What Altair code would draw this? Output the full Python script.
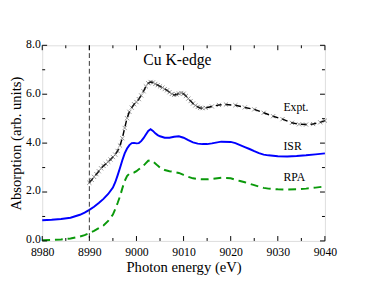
import altair as alt
import pandas as pd

# ---- data ----
expt_x = [8990, 8990.5, 8991, 8991.5, 8992, 8992.5, 8993, 8993.5, 8994, 8994.5,
          8995, 8995.5, 8996, 8996.5, 8997, 8997.5, 8998, 8998.5, 8999, 8999.5,
          9000, 9000.5, 9001, 9001.5, 9002, 9002.5, 9003, 9003.5, 9004, 9004.5,
          9005, 9005.5, 9006, 9006.5, 9007, 9007.5, 9008, 9008.5, 9009, 9009.5,
          9010, 9010.5, 9011, 9011.5, 9012, 9012.5, 9013, 9013.5, 9014, 9014.7,
          9016, 9017.5, 9019, 9021, 9023, 9025, 9027, 9029, 9031, 9033,
          9034.5, 9036, 9037.5, 9039, 9040]
expt_y = [2.38, 2.50, 2.62, 2.73, 2.85, 2.97, 3.07, 3.15, 3.24, 3.33,
          3.43, 3.53, 3.68, 3.90, 4.20, 4.62, 5.02, 5.28, 5.45, 5.59,
          5.68, 5.80, 5.95, 6.12, 6.32, 6.45, 6.50, 6.48, 6.42, 6.37,
          6.32, 6.27, 6.21, 6.16, 6.08, 6.01, 5.97, 5.99, 6.03, 6.05,
          6.02, 5.93, 5.82, 5.72, 5.62, 5.54, 5.48, 5.44, 5.43, 5.44,
          5.50, 5.56, 5.58, 5.55, 5.46, 5.38, 5.24, 5.10, 4.98, 4.83,
          4.77, 4.76, 4.78, 4.85, 4.92]

isr_x = [8980, 8982, 8984, 8986, 8988, 8989, 8990, 8991, 8992, 8993,
         8994, 8995, 8995.5, 8996, 8996.5, 8997, 8997.5, 8998, 8998.5, 8999,
         8999.5, 9000, 9000.5, 9001, 9001.5, 9002, 9002.5, 9003, 9003.5, 9004,
         9004.5, 9005, 9006, 9007, 9008, 9009, 9010, 9011, 9012, 9013,
         9014, 9015, 9016, 9018, 9020, 9021, 9022, 9023, 9024, 9025,
         9026, 9027, 9028, 9030, 9032, 9034, 9036, 9038, 9040]
isr_y = [0.85, 0.87, 0.90, 0.95, 1.07, 1.16, 1.27, 1.40, 1.55, 1.72,
         1.92, 2.18, 2.40, 2.68, 2.98, 3.30, 3.58, 3.78, 3.92, 4.00,
         4.01, 3.99, 4.00, 4.08, 4.20, 4.35, 4.50, 4.57, 4.50, 4.40,
         4.33, 4.28, 4.22, 4.22, 4.26, 4.28, 4.22, 4.12, 4.03, 3.98,
         3.96, 3.96, 3.99, 4.06, 4.05, 4.00, 3.92, 3.84, 3.76, 3.67,
         3.59, 3.53, 3.50, 3.46, 3.45, 3.47, 3.50, 3.54, 3.58]

rpa_x = [8980, 8982, 8984, 8986, 8988, 8989, 8990, 8991, 8992, 8993,
         8994, 8995, 8995.5, 8996, 8996.5, 8997, 8997.5, 8998, 8998.5, 8999,
         8999.5, 9000, 9000.5, 9001, 9001.5, 9002, 9002.5, 9003, 9003.5, 9004,
         9004.5, 9005, 9006, 9007, 9008, 9009, 9010, 9011, 9012, 9013,
         9014, 9015, 9016, 9018, 9020, 9021, 9022, 9023, 9024, 9025,
         9026, 9027, 9028, 9030, 9032, 9034, 9036, 9038, 9040]
rpa_y = [0.03, 0.04, 0.06, 0.10, 0.18, 0.24, 0.32, 0.41, 0.52, 0.63,
         0.82, 1.08, 1.30, 1.55, 1.82, 2.15, 2.45, 2.65, 2.75, 2.78,
         2.80, 2.85, 2.93, 3.00, 3.08, 3.18, 3.28, 3.30, 3.25, 3.17,
         3.08, 3.00, 2.90, 2.85, 2.82, 2.78, 2.70, 2.62, 2.56, 2.53,
         2.52, 2.52, 2.54, 2.58, 2.56, 2.50, 2.45, 2.40, 2.34, 2.28,
         2.22, 2.17, 2.14, 2.11, 2.10, 2.11, 2.14, 2.18, 2.23]

edge_x = [8990]

label_text = ["Cu K-edge", "Expt.", "ISR", "RPA"]
label_x = [9008.7, 9031.2, 9031.2, 9031.2]
label_y = [7.19, 5.32, 3.72, 2.45]
label_align = ["center", "left", "left", "left"]

x_major = [8980, 8990, 9000, 9010, 9020, 9030, 9040]
x_minor = [8985, 8995, 9005, 9015, 9025, 9035]
y_major = [0, 2, 4, 6, 8]
y_minor = [1, 3, 5, 7]

# ---- chart ----
W, H = 289, 200
FONT = "Liberation Serif, Times New Roman, serif"
xs = alt.Scale(domain=[8980, 9040], nice=False, zero=False)
ys = alt.Scale(domain=[0, 8], nice=False)

expt = pd.DataFrame({"x": expt_x, "y": expt_y})
isr = pd.DataFrame({"x": isr_x, "y": isr_y})
rpa = pd.DataFrame({"x": rpa_x, "y": rpa_y})

xaxis = alt.Axis(values=x_major, format="d", ticks=False, tickSize=0, domain=False,
                 grid=False, labelPadding=6, labelFlush=False, labelOverlap=False,
                 title="Photon energy (eV)", titlePadding=2,
                 labelFont=FONT, titleFont=FONT, labelFontSize=12, titleFontSize=15,
                 titleFontWeight="normal", labelColor="black", titleColor="black")
yaxis = alt.Axis(values=y_major, format=".1f", ticks=False, tickSize=0, domain=False,
                 grid=False, labelPadding=2, labelOffset=-2, labelFlush=False,
                 labelOverlap=False,
                 title="Absorption (arb. units)", titlePadding=2,
                 labelFont=FONT, titleFont=FONT, labelFontSize=12, titleFontSize=15,
                 titleFontWeight="normal", labelColor="black", titleColor="black")

base_isr = alt.Chart(isr).mark_line(color="#0000ff", strokeWidth=2).encode(
    x=alt.X("x:Q", scale=xs, axis=xaxis),
    y=alt.Y("y:Q", scale=ys, axis=yaxis),
)
line_rpa = alt.Chart(rpa).mark_line(color="#0a990a", strokeWidth=2, strokeDash=[8, 5]).encode(
    x=alt.X("x:Q", scale=xs), y=alt.Y("y:Q", scale=ys))
line_expt = alt.Chart(expt).mark_line(color="black", strokeWidth=1.5, strokeDash=[6, 4]).encode(
    x=alt.X("x:Q", scale=xs), y=alt.Y("y:Q", scale=ys))
pts_expt = alt.Chart(expt).mark_point(shape="M-1,-1L1,1M-1,1L1,-1", size=18, filled=False,
                                      color="#444444", strokeWidth=0.8).encode(
    x=alt.X("x:Q", scale=xs), y=alt.Y("y:Q", scale=ys))

vline = alt.Chart(pd.DataFrame({"x": edge_x})).mark_rule(
    color="#333333", strokeWidth=1, strokeDash=[5, 3]).encode(
    x=alt.X("x:Q", scale=xs), y=alt.value(0), y2=alt.value(H))

labels = pd.DataFrame({"t": label_text, "x": label_x, "y": label_y, "a": label_align})
lab_big = alt.Chart(labels[labels["a"] == "center"]).mark_text(
    font=FONT, fontSize=16, align="center", baseline="alphabetic", color="black").encode(
    x=alt.X("x:Q", scale=xs), y=alt.Y("y:Q", scale=ys), text="t:N")
lab_small = alt.Chart(labels[labels["a"] == "left"]).mark_text(
    font=FONT, fontSize=12, align="left", baseline="alphabetic", color="black").encode(
    x=alt.X("x:Q", scale=xs), y=alt.Y("y:Q", scale=ys), text="t:N")

MAJ, MIN = 5, 3
xt_maj = pd.DataFrame({"x": x_major})
xt_min = pd.DataFrame({"x": x_minor})
yt_maj = pd.DataFrame({"y": y_major})
yt_min = pd.DataFrame({"y": y_minor})

def xticks(df, ln):
    b = alt.Chart(df).mark_rule(color="black", strokeWidth=1)
    return [b.encode(x=alt.X("x:Q", scale=xs), y=alt.value(H), y2=alt.value(H - ln)),
            b.encode(x=alt.X("x:Q", scale=xs), y=alt.value(0), y2=alt.value(ln))]

def yticks(df, ln):
    b = alt.Chart(df).mark_rule(color="black", strokeWidth=1)
    return [b.encode(y=alt.Y("y:Q", scale=ys), x=alt.value(0), x2=alt.value(ln)),
            b.encode(y=alt.Y("y:Q", scale=ys), x=alt.value(W), x2=alt.value(W - ln))]

tick_layers = xticks(xt_maj, MAJ) + xticks(xt_min, MIN) + yticks(yt_maj, MAJ) + yticks(yt_min, MIN)

chart = alt.layer(base_isr, line_rpa, line_expt, pts_expt, vline, lab_big, lab_small,
                  *tick_layers).properties(
    width=W, height=H,
    autosize=alt.AutoSizeParams(type="none"),
    padding={"left": 35, "top": 35, "right": 42, "bottom": 46},
).configure_view(stroke="black", strokeWidth=1.2).configure(background="white")

chart.save("out.html", embed_options={"renderer": "svg", "actions": False})
